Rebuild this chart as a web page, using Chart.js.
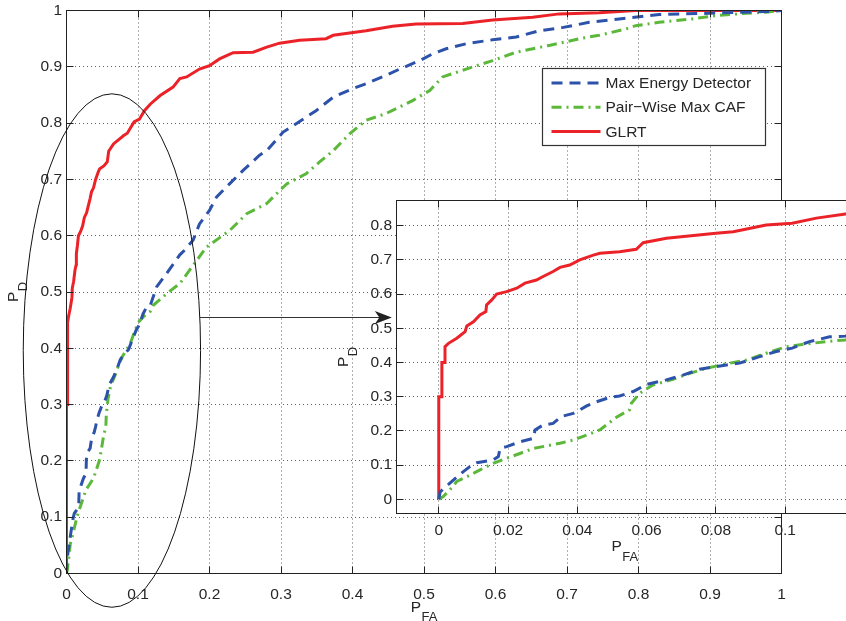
<!DOCTYPE html>
<html>
<head>
<meta charset="utf-8">
<title>ROC</title>
<script src="https://cdn.jsdelivr.net/npm/chart.js@4.4.0/dist/chart.umd.min.js"></script>
<style>
    html, body { margin: 0; padding: 0; background: #fff; overflow: hidden; }
    #wrap { position: relative; width: 846px; height: 621px; overflow: hidden; }
    #main { position: absolute; left: 0; top: 0; }
    #zoom { position: absolute; left: 320px; top: 190px; }
</style>
</head>
<body>
<div id="wrap">
    <canvas id="main" width="846" height="621"></canvas>
    <canvas id="zoom" width="540" height="380"></canvas>
</div>
<script>
// ROC curves: probability of detection vs probability of false alarm

const seriesNames = ['Max Energy Detector', 'Pair\u2212Wise Max CAF', 'GLRT'];

// tick values
const mainTicks = [0, 0.1, 0.2, 0.3, 0.4, 0.5, 0.6, 0.7, 0.8, 0.9, 1];
const zoomXTicks = [0, 0.02, 0.04, 0.06, 0.08, 0.1];
const zoomYTicks = [0, 0.1, 0.2, 0.3, 0.4, 0.5, 0.6, 0.7, 0.8];

// Max Energy Detector
const medX = [0, 0.0004, 0.0023, 0.0042, 0.0071, 0.0095, 0.011, 0.0157, 0.0172, 0.0177,
    0.0196, 0.0234, 0.0273, 0.0278, 0.0301, 0.033, 0.0354, 0.0388, 0.0407, 0.0427,
    0.0455, 0.0494, 0.0522, 0.0561, 0.06, 0.0657, 0.0705, 0.0753, 0.08, 0.0868,
    0.0926, 0.0974, 0.102, 0.107, 0.1128, 0.1174, 0.126, 0.14, 0.1585, 0.165,
    0.177, 0.186, 0.2, 0.21, 0.228, 0.247, 0.27, 0.28, 0.303, 0.326,
    0.349, 0.373, 0.4, 0.419, 0.447, 0.466, 0.494, 0.512, 0.531, 0.559,
    0.596, 0.629, 0.661, 0.695, 0.731, 0.773, 0.801, 0.829, 0.857, 0.899,
    0.941, 0.978, 1];
const medY = [0, 0.022, 0.039, 0.056, 0.081, 0.1, 0.107, 0.115, 0.125, 0.149,
    0.154, 0.168, 0.178, 0.203, 0.217, 0.222, 0.242, 0.251, 0.261, 0.273,
    0.285, 0.298, 0.302, 0.315, 0.336, 0.349, 0.363, 0.38, 0.388, 0.398,
    0.417, 0.432, 0.442, 0.461, 0.475, 0.477, 0.509, 0.533, 0.566, 0.574,
    0.592, 0.621, 0.645, 0.669, 0.692, 0.716, 0.743, 0.751, 0.784, 0.803,
    0.822, 0.846, 0.861, 0.87, 0.885, 0.896, 0.911, 0.923, 0.932, 0.941,
    0.948, 0.953, 0.964, 0.97, 0.979, 0.985, 0.989, 0.993, 0.994, 0.995,
    0.997, 0.998, 1];

// Pair-Wise Max CAF
const cafX = [0, 0.0013, 0.0033, 0.0052, 0.0081, 0.0119, 0.0157, 0.0196, 0.0234, 0.0273,
    0.0311, 0.035, 0.0388, 0.0427, 0.0465, 0.0513, 0.0551, 0.0556, 0.058, 0.0618,
    0.0676, 0.0724, 0.0772, 0.083, 0.0888, 0.0945, 0.1003, 0.106, 0.1118, 0.1174,
    0.121, 0.14, 0.1585, 0.182, 0.196, 0.228, 0.252, 0.28, 0.298, 0.308,
    0.335, 0.354, 0.373, 0.396, 0.419, 0.447, 0.484, 0.508, 0.526, 0.559,
    0.596, 0.629, 0.675, 0.722, 0.745, 0.782, 0.796, 0.829, 0.875, 0.908,
    0.95, 0.978, 1];
const cafY = [0, 0.008, 0.029, 0.052, 0.066, 0.086, 0.105, 0.12, 0.134, 0.149,
    0.156, 0.164, 0.173, 0.188, 0.203, 0.24, 0.262, 0.281, 0.31, 0.334,
    0.351, 0.368, 0.383, 0.396, 0.407, 0.427, 0.446, 0.454, 0.461, 0.466,
    0.476, 0.497, 0.515, 0.556, 0.58, 0.609, 0.639, 0.657, 0.68, 0.692,
    0.71, 0.731, 0.751, 0.781, 0.805, 0.817, 0.84, 0.858, 0.882, 0.896,
    0.911, 0.926, 0.938, 0.951, 0.956, 0.967, 0.973, 0.979, 0.985, 0.991,
    0.995, 0.997, 1];

// GLRT
const glrtX = [0, 0, 0.0009, 0.0009, 0.0018, 0.0018, 0.0028, 0.0052, 0.0076, 0.0081,
    0.01, 0.0119, 0.0136, 0.0138, 0.0153, 0.0167, 0.0196, 0.0225, 0.0249, 0.0282,
    0.0297, 0.033, 0.035, 0.0378, 0.0407, 0.0446, 0.0465, 0.0522, 0.057, 0.059,
    0.0657, 0.08, 0.085, 0.0945, 0.102, 0.109, 0.1174, 0.131, 0.149, 0.1585,
    0.168, 0.186, 0.2, 0.214, 0.233, 0.261, 0.28, 0.298, 0.326, 0.363,
    0.373, 0.419, 0.456, 0.489, 0.554, 0.596, 0.652, 0.689, 0.745, 0.796,
    1];
const glrtY = [0, 0.3, 0.3, 0.4, 0.4, 0.446, 0.456, 0.471, 0.49, 0.507,
    0.519, 0.539, 0.549, 0.568, 0.583, 0.6, 0.607, 0.617, 0.632, 0.641,
    0.649, 0.666, 0.678, 0.685, 0.7, 0.714, 0.719, 0.724, 0.731, 0.75,
    0.763, 0.778, 0.782, 0.802, 0.807, 0.822, 0.834, 0.849, 0.864, 0.879,
    0.882, 0.896, 0.902, 0.914, 0.925, 0.926, 0.935, 0.942, 0.947, 0.95,
    0.956, 0.964, 0.972, 0.976, 0.977, 0.983, 0.988, 0.994, 0.996, 1,
    1];

// ellipse around the low-PFA region and the pointer towards the zoomed axes
const ring = { x: 0.0635, y: 0.396, rx: 0.124, ry: 0.456 };
const pointer = { x0: 0.1865, x1: 0.455, y: 0.4555 };

const FONT = '"Liberation Sans", Arial, Helvetica, sans-serif';
const TEXT = '#262626';
const AXIS = '#222';
const GRID = 'rgba(30,30,30,0.7)';

const lineStyles = [
    { color: '#2c52aa', dash: [11, 7] },
    { color: '#5cb83a', dash: [10, 5, 2, 5] },
    { color: '#ec2229', dash: [] }
];
const seriesX = [medX, cafX, glrtX];
const seriesY = [medY, cafY, glrtY];

function pts(xs, ys) {
    return xs.map((x, i) => ({ x: x, y: ys[i] }));
}

function makeDatasets() {
    return seriesNames.map((name, i) => ({
        label: name,
        data: pts(seriesX[i], seriesY[i]),
        borderColor: lineStyles[i].color,
        borderDash: lineStyles[i].dash,
        borderWidth: 3,
        borderCapStyle: 'butt',
        pointRadius: 0,
        tension: 0,
        fill: false
    }));
}

function fixedTicks(values) {
    return scale => { scale.ticks = values.map(v => ({ value: v })); };
}

function fixedSize(prop, size) {
    return scale => {
        scale[prop] = size;
        scale.paddingLeft = 0; scale.paddingRight = 0;
        scale.paddingTop = 0; scale.paddingBottom = 0;
    };
}

function axisOpts(min, max, ticks, prop, size, pad) {
    return {
        type: 'linear',
        min: min,
        max: max,
        afterBuildTicks: fixedTicks(ticks),
        afterFit: fixedSize(prop, size),
        grid: { color: GRID, lineWidth: 1, drawTicks: false },
        border: { display: false, dash: [1, 3] },
        ticks: {
            padding: pad,
            color: TEXT,
            font: { family: FONT, size: 15.5 },
            callback: v => String(v)
        }
    };
}

// P with a subscript, optionally rotated for the vertical axis
function subLabel(ctx, x, y, rotate, main, sub) {
    ctx.save();
    ctx.translate(x, y);
    if (rotate) ctx.rotate(-Math.PI / 2);
    ctx.fillStyle = TEXT;
    ctx.textAlign = 'left';
    ctx.textBaseline = 'alphabetic';
    ctx.font = '15.5px ' + FONT;
    ctx.fillText(main, 0, 0);
    const w = ctx.measureText(main).width;
    ctx.font = '13px ' + FONT;
    ctx.fillText(sub, w + 0.5, 9.5);
    ctx.restore();
}

// box round the axes with inward tick marks on every side
const boxPlugin = {
    id: 'box',
    afterDatasetsDraw(chart) {
        const { ctx, chartArea: a, scales: { x, y } } = chart;
        const len = 7;
        ctx.save();
        ctx.strokeStyle = AXIS;
        ctx.lineWidth = 1;
        ctx.setLineDash([]);
        ctx.strokeRect(a.left, a.top, a.right - a.left, a.bottom - a.top);
        ctx.beginPath();
        x.ticks.forEach(t => {
            const px = Math.floor(x.getPixelForValue(t.value)) + 0.5;
            ctx.moveTo(px, a.bottom); ctx.lineTo(px, a.bottom - len);
            ctx.moveTo(px, a.top); ctx.lineTo(px, a.top + len);
        });
        y.ticks.forEach(t => {
            const py = Math.floor(y.getPixelForValue(t.value)) + 0.5;
            ctx.moveTo(a.left, py); ctx.lineTo(a.left + len, py);
            ctx.moveTo(a.right, py); ctx.lineTo(a.right - len, py);
        });
        ctx.stroke();
        ctx.restore();
    }
};

const notesPlugin = {
    id: 'notes',
    afterDatasetsDraw(chart) {
        const { ctx, scales: { x, y } } = chart;
        ctx.save();
        ctx.setLineDash([]);
        ctx.lineWidth = 1;
        ctx.strokeStyle = '#111';
        const cx = x.getPixelForValue(ring.x), cy = y.getPixelForValue(ring.y);
        const rx = x.getPixelForValue(ring.x + ring.rx) - cx;
        const ry = cy - y.getPixelForValue(ring.y + ring.ry);
        ctx.beginPath();
        ctx.ellipse(cx, cy, rx, ry, 0, 0, Math.PI * 2);
        ctx.stroke();

        const x0 = x.getPixelForValue(pointer.x0), x1 = x.getPixelForValue(pointer.x1);
        const py = Math.floor(y.getPixelForValue(pointer.y)) + 0.5;
        ctx.strokeStyle = '#333';
        ctx.beginPath();
        ctx.moveTo(x0, py); ctx.lineTo(x1 - 8, py);
        ctx.stroke();
        ctx.fillStyle = '#222';
        ctx.beginPath();
        ctx.moveTo(x1, py);
        ctx.lineTo(x1 - 17, py - 6.5);
        ctx.lineTo(x1 - 12.5, py);
        ctx.lineTo(x1 - 17, py + 6.5);
        ctx.closePath();
        ctx.fill();
        ctx.restore();
    },
    afterDraw(chart) {
        const ctx = chart.ctx;
        subLabel(ctx, 410.7, 611.5, false, 'P', 'FA');
        subLabel(ctx, 17.5, 302, true, 'P', 'D');
    }
};

const legendPlugin = {
    id: 'legendBox',
    afterDraw(chart) {
        const ctx = chart.ctx;
        const left = 542.5, top = 68.5, w = 223, h = 77;
        ctx.save();
        ctx.fillStyle = '#fff';
        ctx.fillRect(left, top, w, h);
        ctx.strokeStyle = '#333';
        ctx.lineWidth = 1.2;
        ctx.setLineDash([]);
        ctx.strokeRect(left, top, w, h);
        ctx.font = '15.5px ' + FONT;
        ctx.textBaseline = 'middle';
        ctx.textAlign = 'left';
        seriesNames.forEach((name, i) => {
            const ry = top + 14.5 + i * 24.2;
            ctx.strokeStyle = lineStyles[i].color;
            ctx.lineWidth = 3;
            ctx.setLineDash(lineStyles[i].dash);
            ctx.beginPath();
            ctx.moveTo(left + 9, ry); ctx.lineTo(left + 58, ry);
            ctx.stroke();
            ctx.setLineDash([]);
            ctx.fillStyle = TEXT;
            ctx.fillText(name, left + 63, ry + 1);
        });
        ctx.restore();
    }
};

// white face for the zoomed axes only; its labels stay transparent
const zoomFace = {
    id: 'zoomFace',
    beforeDraw(chart) {
        const { ctx, chartArea: a } = chart;
        ctx.save();
        ctx.fillStyle = '#fff';
        ctx.fillRect(a.left, a.top, a.right - a.left, a.bottom - a.top);
        ctx.restore();
    },
    afterDraw(chart) {
        const ctx = chart.ctx;
        subLabel(ctx, 291.4, 361, false, 'P', 'FA');
        subLabel(ctx, 27.5, 177, true, 'P', 'D');
    }
};

const baseOptions = {
    responsive: false,
    animation: false,
    events: [],
    plugins: { legend: { display: false }, tooltip: { enabled: false } }
};

new Chart(document.getElementById('main'), {
    type: 'line',
    data: { datasets: makeDatasets() },
    options: Object.assign({}, baseOptions, {
        layout: { padding: { left: 0, top: 10.5, right: 64.5, bottom: 0 } },
        scales: {
            x: axisOpts(0, 1, mainTicks, 'height', 47.5, 12),
            y: axisOpts(0, 1, mainTicks, 'width', 66.5, 4.5)
        }
    }),
    plugins: [boxPlugin, notesPlugin, legendPlugin]
});

new Chart(document.getElementById('zoom'), {
    type: 'line',
    data: { datasets: makeDatasets() },
    options: Object.assign({}, baseOptions, {
        layout: { padding: { left: 0, top: 10.5, right: 5.5, bottom: 0 } },
        scales: {
            x: axisOpts(-0.0122, 0.12, zoomXTicks, 'height', 56.5, 8),
            y: axisOpts(-0.0415, 0.8735, zoomYTicks, 'width', 76.5, 4.5)
        }
    }),
    plugins: [zoomFace, boxPlugin]
});
</script>
</body>
</html>
